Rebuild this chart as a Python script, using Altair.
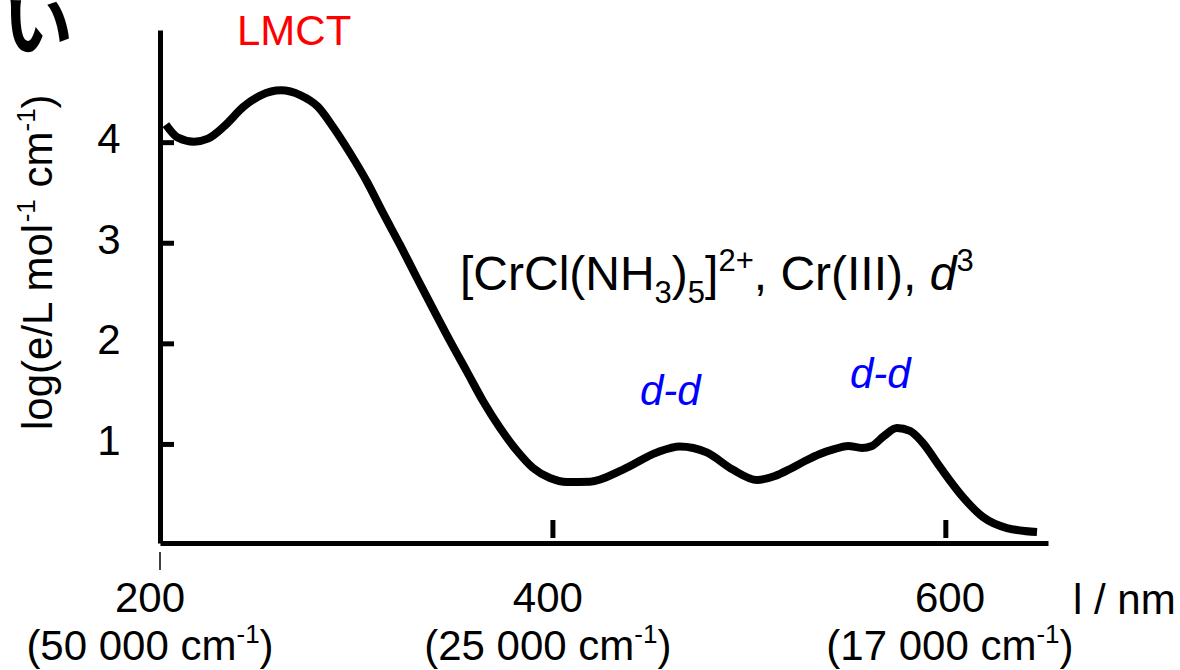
import altair as alt
import pandas as pd

# ---------------- data ----------------
wavelength_nm = [203.0, 209.1, 217.3, 224.4, 232.5, 242.7, 251.3, 261.5, 271.6, 280.2,
                 288.1, 296.7, 305.4, 313.5, 322.2, 330.8, 339.0, 347.6, 356.3, 364.4,
                 373.1, 381.8, 389.9, 398.5, 407.2, 418.9, 435.7, 452.9, 464.6, 478.3,
                 491.5, 503.9, 513.0, 520.7, 528.3, 535.9, 543.6, 550.2, 557.3, 562.4,
                 568.5, 575.1, 581.7, 587.9, 597.0, 608.7, 618.9, 631.1, 646.4]
log_eps = [4.18, 4.05, 4.01, 4.04, 4.16, 4.36, 4.47, 4.52, 4.47, 4.36,
           4.156, 3.897, 3.609, 3.301, 2.983, 2.655, 2.347, 2.029, 1.721, 1.432,
           1.163, 0.935, 0.766, 0.666, 0.627, 0.63, 0.75, 0.92, 0.98, 0.92,
           0.75, 0.646, 0.686, 0.756, 0.835, 0.905, 0.955, 0.985, 0.965, 0.985,
           1.084, 1.163, 1.134, 1.024, 0.776, 0.477, 0.278, 0.169, 0.129]

y_tick_values = [1, 2, 3, 4]
x_tick_values = [200, 400, 600]
x_tick_labels = ["200", "400", "600"]
x_tick_wavenumbers = ["(50 000 cm", "(25 000 cm", "(17 000 cm"]
x_label_centers_nm = [194.9, 397.4, 602.1]

X_DOMAIN = [200, 652]
Y_DOMAIN = [0.02, 5.12]
PLOT_W, PLOT_H = 888, 513
PX_NM = PLOT_W / (X_DOMAIN[1] - X_DOMAIN[0])
PX_U = PLOT_H / (Y_DOMAIN[1] - Y_DOMAIN[0])

FONT = "Liberation Sans"
# Arial / Liberation Sans advance widths (1/1000 em)
W = {' ': 278, '(': 333, ')': 333, '[': 278, ']': 278, '+': 584, ',': 278,
     '-': 333, '/': 278, 'C': 722, 'H': 722, 'I': 278, 'L': 556, 'M': 833, 'N': 722,
     'T': 611, 'c': 500, 'd': 556, 'e': 556, 'g': 556, 'l': 222, 'm': 833, 'n': 556,
     'o': 556, 'r': 333}
for _d in "0123456789":
    W[_d] = 556


def tw(s, size):
    return sum(W[c] for c in s) / 1000.0 * size


rows = []


def place(segments, nm, v, color="black", angle=0, align="left"):
    """segments: (text, size, shift_down_px, italic)"""
    total = sum(tw(t, s) for t, s, _, _ in segments)
    cursor = -total / 2 if align == "center" else 0.0
    for t, s, shift, it in segments:
        lead = len(t) - len(t.lstrip(" "))
        start = cursor + tw(t[:lead], s)
        if angle == 0:
            dx, dy = start, shift
        else:  # 270: text runs upward, 'down' points right
            dx, dy = shift, -start
        rows.append(dict(nm=nm + dx / PX_NM, v=v - dy / PX_U, text=t.strip(" "), size=s,
                         italic=it, color=color, angle=angle))
        cursor += tw(t, s)


F = 42
S = 26
place([("LMCT", F, 0, False)], 239.2, 4.97, color="#ff0000")
FF, FS = 48, 31
place([("[CrCl(NH", FF, 0, False), ("3", FS, 13, False), (")", FF, 0, False),
       ("5", FS, 13, False), ("]", FF, 0, False), ("2+", FS, -19, False),
       (", Cr(III), ", FF, 0, False), ("d", FF, 0, True), ("3", FS, -19, False)],
      352.7, 2.535)
place([("d-d", F, 0, True)], 444.3, 1.392, color="#0000ff")
place([("d-d", F, 0, True)], 551.2, 1.561, color="#0000ff")
place([("log(e/L mol", F, 0, False), ("-1", S, -17, False), (" cm", F, 0, False),
       ("-1", S, -17, False), (")", F, 0, False)], 145.0, 1.143, angle=270)
for lab, wn, c in zip(x_tick_labels, x_tick_wavenumbers, x_label_centers_nm):
    place([(lab, F, 0, False)], c, -0.666, align="center")
    place([(wn, F, 0, False), ("-1", S, -17, False), (")", F, 0, False)], c, -1.143,
          align="center")
place([("l / nm", F, 0, False)], 664.7, -0.686)

curve = pd.DataFrame({"nm": wavelength_nm, "v": log_eps})
texts = pd.DataFrame(rows)
yt = pd.DataFrame({"v": y_tick_values})
xt = pd.DataFrame({"nm": x_tick_values})

xs = alt.Scale(domain=X_DOMAIN, nice=False, zero=False)
ys = alt.Scale(domain=Y_DOMAIN, nice=False, zero=False)

line = alt.Chart(curve).mark_line(color="black", strokeWidth=8, interpolate="monotone",
                                  strokeCap="butt", clip=False).encode(
    x=alt.X("nm:Q", scale=xs,
            axis=alt.Axis(domain=True, domainWidth=5, domainColor="black", ticks=False,
                          labels=False, grid=False, title=None)),
    y=alt.Y("v:Q", scale=ys,
            axis=alt.Axis(values=y_tick_values, format="d", ticks=False, labelFontSize=42,
                          labelFont=FONT, labelColor="black", labelPadding=40,
                          labelOffset=-3, domainWidth=5, domainColor="black",
                          grid=False, title=None)),
)

yticks = alt.Chart(yt).mark_rule(color="black", strokeWidth=5).encode(
    y=alt.Y("v:Q", scale=ys), x=alt.value(0), x2=alt.value(14))

xtick_low = alt.Chart(xt).transform_filter("datum.nm == 200").mark_rule(
    color="black", strokeWidth=1.5).encode(
    x=alt.X("nm:Q", scale=xs), y=alt.value(PLOT_H + 9), y2=alt.value(PLOT_H + 27))

xtick_up = alt.Chart(xt).transform_filter("datum.nm > 200").mark_rule(
    color="black", strokeWidth=5).encode(
    x=alt.X("nm:Q", scale=xs), y=alt.value(PLOT_H - 23), y2=alt.value(PLOT_H - 5))


def text_layer(italic):
    return alt.Chart(texts).transform_filter(
        f"datum.italic == {'true' if italic else 'false'}").mark_text(
        font=FONT, align="left", baseline="alphabetic", clip=False,
        fontStyle="italic" if italic else "normal").encode(
        x=alt.X("nm:Q", scale=xs), y=alt.Y("v:Q", scale=ys), text="text:N",
        size=alt.Size("size:Q", scale=None, legend=None),
        color=alt.Color("color:N", scale=None, legend=None),
        angle=alt.Angle("angle:Q", scale=None))


kana = alt.Chart(pd.DataFrame({"nm": [137.9], "v": [5.12], "t": ["い"]})).mark_text(
    font="Noto Sans CJK JP", fontSize=70, fontWeight="bold", align="center",
    baseline="middle", color="black", clip=False).encode(
    x=alt.X("nm:Q", scale=xs), y=alt.Y("v:Q", scale=ys), text="t:N")

chart = alt.layer(line, yticks, xtick_low, xtick_up, text_layer(False), text_layer(True),
                  kana).properties(
    width=PLOT_W, height=PLOT_H,
    padding={"left": 160, "top": 30, "right": 132, "bottom": 127},
    autosize=alt.AutoSizeParams(type="none"),
    background="white",
).configure_view(stroke=None)

chart.save("out.html", embed_options={"renderer": "svg", "actions": False})
